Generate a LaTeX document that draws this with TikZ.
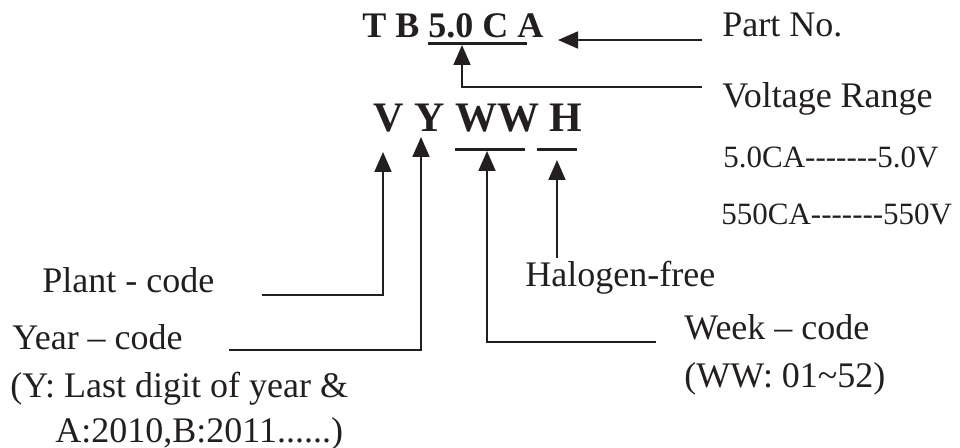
\documentclass[tikz,border=0pt]{standalone}
\usepackage{fontspec}
\setmainfont{Liberation Serif}
\usepackage{tikz}
\usetikzlibrary{arrows.meta,positioning}
\definecolor{ink}{RGB}{35,31,32}
\newcommand{\dashrun}{-{}-{}-{}-{}-{}-{}-}

\begin{document}
\begin{tikzpicture}[x=0.5pt, y=-0.5pt, ink,
    lbl/.style={anchor=base west, inner sep=0pt, text=ink, font=\fontsize{18}{20}\selectfont},
    small/.style={lbl, font=\fontsize{15.5}{18}\selectfont},
    arr/.style={-{Triangle[length=10pt,width=8.5pt]}, line width=0.9pt},
    bar/.style={line width=1.5pt}]
    \useasboundingbox (0,0) rectangle (960,448);

    % marking text
    \node[lbl, font=\fontsize{18}{20}\selectfont\bfseries] (partcode) at (362,38) {T B 5.0 C A};
    \node[lbl, font=\fontsize{21}{24}\selectfont\bfseries] (marking) at (373,132) {V Y WW H};

    % labels
    \node[lbl] (partno) at (722,37) {Part No.};
    \node[lbl] (volt) at (722,108) {Voltage Range};
    \node[small] (volta) at (723,168) {5.0CA\dashrun5.0V};
    \node[small] (voltb) at (721,225) {550CA\dashrun550V};
    \node[lbl] (halogen) at (525,287) {Halogen-free};
    \node[lbl] (plant) at (42,293) {Plant - code};
    \node[lbl] (year) at (12,350) {Year -- code};
    \node[lbl] (yearnote) at (10,398) {(Y: Last digit of year \&};
    \node[lbl] (yearnoteb) at (55,443) {A:2010,B:2011......)};
    \node[lbl] (week) at (684,340) {Week -- code};
    \node[lbl] (weeknote) at (684,388) {(WW: 01\textasciitilde52)};

    % under/over bars
    \coordinate (ulA) at (428,44);  \coordinate (ulB) at (527,44);
    \coordinate (olA) at (455,150); \coordinate (olB) at (525,150);
    \coordinate (ohA) at (537,150); \coordinate (ohB) at (577,150);
    \draw[bar] (ulA) -- (ulB);
    \draw[bar] (olA) -- (olB);
    \draw[bar] (ohA) -- (ohB);

    % connector ends
    \coordinate (partS) at (702,40);  \coordinate (partT) at (558,40);
    \coordinate (voltS) at (702,87);  \coordinate (voltT) at (462,45);
    \coordinate (plantS) at (262,295); \coordinate (plantT) at (383,152);
    \coordinate (yearS) at (229,350);  \coordinate (yearT) at (421,137);
    \coordinate (weekS) at (656,342);  \coordinate (weekT) at (487,151);
    \coordinate (haloS) at (557,258);  \coordinate (haloT) at (557,160);

    \draw[arr] (partS) -- (partT);
    \draw[arr] (voltS) -| (voltT);
    \draw[arr] (plantS) -| (plantT);
    \draw[arr] (yearS) -| (yearT);
    \draw[arr] (weekS) -| (weekT);
    \draw[arr] (haloS) -- (haloT);
\end{tikzpicture}
\end{document}
